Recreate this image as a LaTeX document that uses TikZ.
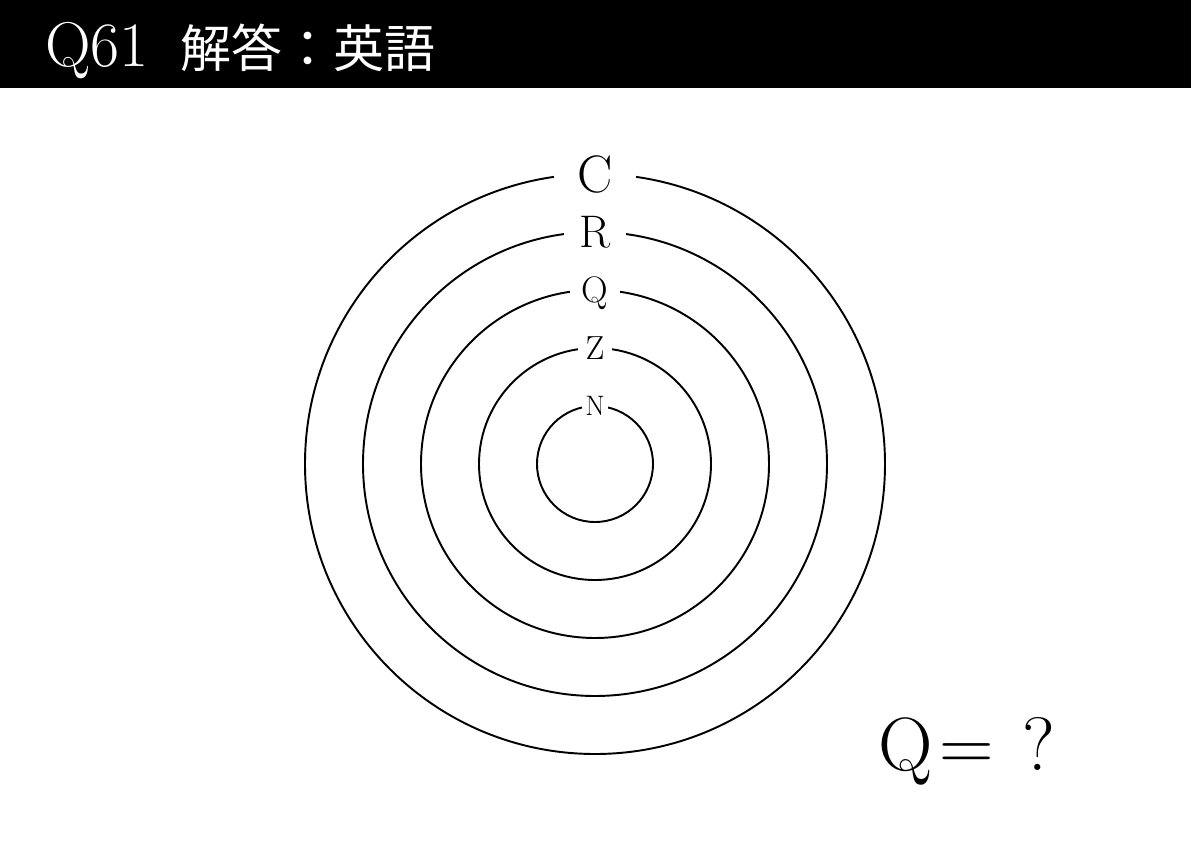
\documentclass[tikz,border=0pt]{standalone}
\usepackage{fontspec}
\newfontfamily\jpfont{Noto Sans CJK JP}
\usetikzlibrary{calc}
\begin{document}
\begin{tikzpicture}[x=0.02cm,y=-0.02cm,
  ring/.style={line width=1.1pt},
  ringlabel/.style={fill=white,inner sep=0pt,text depth=0pt}]
  \useasboundingbox (0,0) rectangle (1191,842);
  \coordinate (ctr) at (595,464);

  % header
  \fill[black] (0,0) rectangle (1191,88);
  \node[anchor=base west,text=white,inner sep=0pt] (qnum) at (45,66)
    {\fontsize{36}{36}\selectfont Q61};
  \node[anchor=base west,text=white,inner sep=0pt] (qtitle) at (180,67)
    {\jpfont\fontsize{29}{29}\selectfont 解答：英語};

  % rings with letters
  \foreach \r/\lab/\sz/\gap/\nm in {290/C/30/47/lc,232/R/26/35/lr,174/Q/21/29/lq,116/Z/19/19/lz,58/N/16/15/ln}{
    \draw[ring] (ctr) circle (\r);
    \node[ringlabel,minimum width=\gap pt] (\nm) at ($(ctr)+(0,-\r)$)
      {\fontsize{\sz}{\sz}\selectfont \lab};
  }

  % question
  \node[anchor=base west,inner sep=0pt] (ask) at (878,770)
    {\fontsize{43}{43}\selectfont Q\hspace{4pt}=\hspace{16pt}?};
\end{tikzpicture}
\end{document}
